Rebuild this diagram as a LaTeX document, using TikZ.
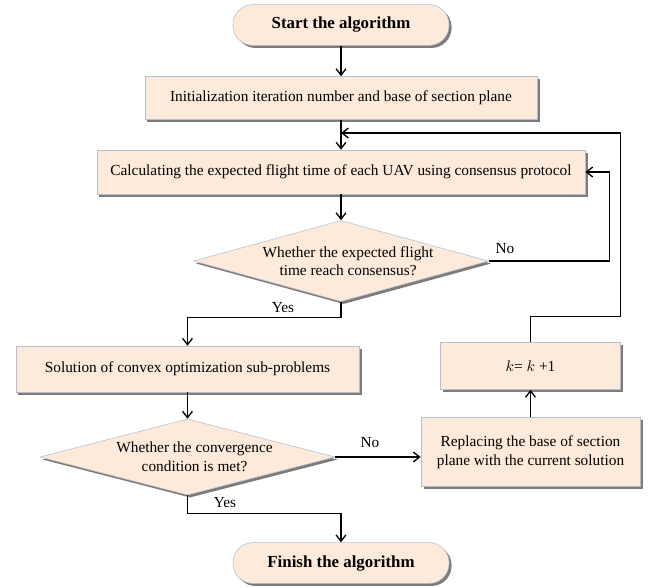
\documentclass[tikz,border=0pt]{standalone}
\usepackage{fontspec}
\setmainfont{Liberation Serif}
\usetikzlibrary{shapes.geometric, arrows.meta, positioning, shadows}
\definecolor{boxfill}{RGB}{253,234,218}
\definecolor{boxedge}{RGB}{180,192,210}
\definecolor{boxshade}{RGB}{128,122,120}

\begin{document}
\begin{tikzpicture}[x=0.025cm, y=-0.025cm, every node/.style={font=\fontsize{10.9}{13.2}\selectfont}]
\tikzstyle{startstop} = [rectangle, rounded corners=0.5cm, minimum width=5.4cm, minimum height=1.02cm, text centered, draw=boxedge, fill=boxfill, drop shadow={shadow xshift=1.8pt, shadow yshift=-1.8pt, fill=boxshade, opacity=1}, font=\fontsize{12}{14}\selectfont\bfseries]
\tikzstyle{process} = [rectangle, minimum height=1.1cm, text centered, draw=boxedge, fill=boxfill, drop shadow={shadow xshift=1.8pt, shadow yshift=-1.8pt, fill=boxshade, opacity=1}]
\tikzstyle{decision} = [diamond, minimum width=7.375cm, inner sep=0pt, draw=boxedge, fill=boxfill, drop shadow={shadow xshift=1.8pt, shadow yshift=-1.8pt, fill=boxshade, opacity=1}]
\tikzstyle{arrow} = [line width=0.95pt, -{Straight Barb[length=4.5pt, width=7pt]}]

\useasboundingbox (0,0) rectangle (650,587);

% Main column (top to bottom)
\node (start) [startstop] at (341,25) {Start the algorithm};
\node (init) [process, minimum width=9.8cm, minimum height=1.075cm] at (341,98) {Initialization iteration number and base of section plane};
\node (calc) [process, minimum width=12.2cm] at (341,172) {Calculating the expected flight time of each UAV using consensus protocol};
\node (d1) [decision, minimum height=2.025cm, label={[align=center, xshift=5pt]center:Whether the expected flight\\time reach consensus?}] at (341,261) {};

% Left column
\node (sol) [process, minimum width=8.575cm, minimum height=1.15cm] at (187.5,369) {Solution of convex optimization sub-problems};
\node (d2) [decision, minimum height=1.9cm, label={[align=center, xshift=5pt]center:Whether the convergence\\condition is met?}] at (187.5,457) {};

% Right column
\node (k) [process, minimum width=4.5cm, minimum height=1.175cm] at (530.5,366) {$k$= $k$ +1};
\node (rep) [process, minimum width=5.475cm, minimum height=1.725cm, align=center] at (530.5,452) {Replacing the base of section\\ plane with the current solution};

\node (fin) [startstop] at (341,563) {Finish the algorithm};

% Branch labels
\node (no1) at (505,249) {No};
\node (yes1) at (283,308) {Yes};
\node (no2) at (370,443) {No};
\node (yes2) at (225,503) {Yes};

\coordinate (merge) at (341,133);

% Arrows
\draw [arrow] (start) -- (init);
\draw [arrow] (init) -- (calc);
\draw [arrow] (calc) -- (d1);
\draw [arrow] (d1.east) -- ++(121,0) |- (calc.east);
\draw [arrow] (d1.south) -- ++(0,16) -| (sol.north);
\draw [arrow] (sol) -- (d2);
\draw [arrow] (d2.east) -- (d2.east -| rep.west);
\draw [arrow] (rep) -- (k);
\draw [arrow] (k.north) -- ++(0,-26) -- ++(90,0) |- (merge);
\draw [arrow] (d2.south) -- ++(0,18) -| (fin.north);

\end{tikzpicture}
\end{document}
